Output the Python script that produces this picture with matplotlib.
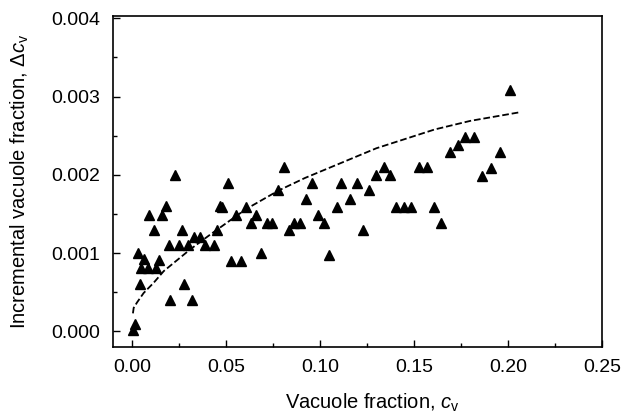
import matplotlib
matplotlib.use("Agg")
import matplotlib.pyplot as plt
from matplotlib.ticker import MultipleLocator, FormatStrFormatter

# ======================================================
# Data
# ======================================================

# measured points (vacuole fraction, incremental vacuole fraction)
cv = [0.0003, 0.0014, 0.0040, 0.0030, 0.0050, 0.0062, 0.0085, 0.0130, 0.0142,
      0.0089, 0.0115, 0.0160, 0.0183, 0.0231, 0.0196, 0.0249, 0.0267, 0.0297,
      0.0275, 0.0204, 0.0320, 0.0332, 0.0364, 0.0390, 0.0436, 0.0454, 0.0470,
      0.0480, 0.0510, 0.0525, 0.0551, 0.0578, 0.0605, 0.0635, 0.0658, 0.0688,
      0.0720, 0.0747, 0.0779, 0.0809, 0.0836, 0.0862, 0.0894, 0.0928, 0.0960,
      0.0987, 0.1019, 0.1049, 0.1090, 0.1111, 0.1160, 0.1195, 0.1227, 0.1263,
      0.1298, 0.1339, 0.1375, 0.1405, 0.1446, 0.1485, 0.1524, 0.1569, 0.1604,
      0.1645, 0.1690, 0.1734, 0.1773, 0.1820, 0.1862, 0.1907, 0.1956, 0.2010]
dcv = [0.00002, 0.00010, 0.00060, 0.00100, 0.00081, 0.00092, 0.00081, 0.00081, 0.00091,
       0.00149, 0.00130, 0.00149, 0.00160, 0.00200, 0.00110, 0.00110, 0.00130, 0.00110,
       0.00060, 0.00040, 0.00040, 0.00120, 0.00120, 0.00110, 0.00110, 0.00130, 0.00160,
       0.00159, 0.00190, 0.00090, 0.00149, 0.00090, 0.00159, 0.00139, 0.00149, 0.00100,
       0.00139, 0.00139, 0.00180, 0.00210, 0.00130, 0.00139, 0.00139, 0.00169, 0.00190,
       0.00149, 0.00139, 0.00098, 0.00159, 0.00189, 0.00169, 0.00190, 0.00130, 0.00180,
       0.00200, 0.00210, 0.00200, 0.00159, 0.00159, 0.00159, 0.00210, 0.00210, 0.00159,
       0.00138, 0.00229, 0.00238, 0.00248, 0.00248, 0.00198, 0.00209, 0.00229, 0.00309]

# fitted curve (dashed)
fit_cv = [0.0005, 0.0009, 0.0027, 0.0062, 0.0115, 0.0169, 0.0240, 0.0311, 0.0418,
          0.0605, 0.0780, 0.0920, 0.1060, 0.1110, 0.1300, 0.1610, 0.1800, 0.2063]
fit_dcv = [0.00023, 0.00030, 0.00037, 0.00049, 0.00062, 0.00077, 0.00091, 0.00105, 0.00124,
           0.00156, 0.00180, 0.00196, 0.00210, 0.00215, 0.00234, 0.00258, 0.00269, 0.00280]

# ======================================================
# Plot
# ======================================================
plt.rcParams['font.family'] = ['Liberation Sans', 'DejaVu Sans']
plt.rcParams['mathtext.fontset'] = 'custom'
plt.rcParams['mathtext.rm'] = 'Liberation Sans'
plt.rcParams['mathtext.it'] = 'Liberation Sans:italic'

fig = plt.figure(figsize=(6.36, 4.18), dpi=100)
ax = fig.add_axes([113 / 636, 1 - 347 / 418, (602 - 113) / 636, (347 - 16) / 418])

ax.plot(fit_cv, fit_dcv, color='black', lw=1.3, linestyle=(0, (3.7, 1.6)))
ax.plot(cv, dcv, linestyle='none', marker='^', color='black', markersize=6.5)

ax.set_xlim(-0.0101, 0.25)
ax.set_ylim(-0.0002, 0.00403)

ax.xaxis.set_major_locator(MultipleLocator(0.05))
ax.xaxis.set_minor_locator(MultipleLocator(0.025))
ax.yaxis.set_major_locator(MultipleLocator(0.001))
ax.yaxis.set_minor_locator(MultipleLocator(0.0005))
ax.xaxis.set_major_formatter(FormatStrFormatter('%.2f'))
ax.yaxis.set_major_formatter(FormatStrFormatter('%.3f'))

ax.tick_params(which='both', direction='in', width=1, labelsize=14, pad=9)
ax.tick_params(which='major', length=5)
ax.tick_params(which='minor', length=3)
ax.tick_params(top=False, right=False, which='both')

for s in ax.spines.values():
    s.set_linewidth(1.2)

ax.set_xlabel(r'Vacuole fraction, $c_\mathrm{v}$', fontsize=14.5)
ax.set_ylabel(r'Incremental vacuole fraction, $\Delta c_\mathrm{v}$', fontsize=14.5)
ax.xaxis.set_label_coords(0.53, -0.135)
ax.yaxis.set_label_coords(-0.168, 0.5)

fig.savefig('out.png', dpi=100)
